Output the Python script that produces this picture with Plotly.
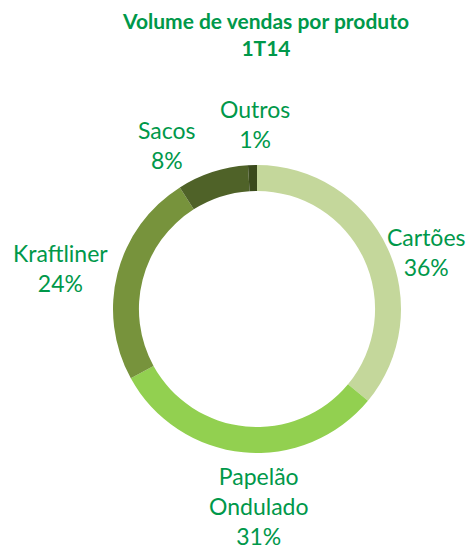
import plotly.graph_objects as go

categories = ["Cartões", "Papelão<br>Ondulado", "Kraftliner", "Sacos", "Outros"]
values = [36, 31, 24, 8, 1]
colors = ["#c4d79b", "#92d050", "#77933c", "#4f6228", "#3a4a1c"]

W, H = 469, 550
CX, CY, R = 257, 309, 144  # pixel center / radius
TXT = "#00984a"
FONT = "Lato"

fig = go.Figure(go.Pie(
    labels=categories, values=values, sort=False, direction="clockwise",
    rotation=0, hole=0.82, textinfo="none", hoverinfo="label+percent",
    marker=dict(colors=colors, line=dict(width=0)),
    domain=dict(x=[(CX - R) / W, (CX + R) / W], y=[(H - CY - R) / H, (H - CY + R) / H]),
    showlegend=False,
))

# label anchor positions (pixels, text center)
label_pos = [(426, 252), (259, 506), (60, 268), (167, 145), (255, 124)]
total = sum(values)
anns = []
for cat, v, (px, py) in zip(categories, values, label_pos):
    anns.append(dict(
        x=px / W, y=1 - py / H, xref="paper", yref="paper",
        text=f"{cat}<br>{round(100 * v / total)}%", showarrow=False,
        xanchor="center", yanchor="middle", align="center",
        font=dict(family=FONT, size=23, color=TXT),
    ))
anns.append(dict(
    x=265 / W, y=1 - 34 / H, xref="paper", yref="paper",
    text="<b>Volume de vendas por produto<br>1T14</b>", showarrow=False,
    xanchor="center", yanchor="middle", align="center",
    font=dict(family=FONT, size=21, color=TXT),
))

fig.update_layout(
    width=W, height=H, margin=dict(l=0, r=0, t=0, b=0),
    paper_bgcolor="white", plot_bgcolor="white", annotations=anns,
)
fig.write_html(
    "out.html",
    config={"displayModeBar": False},
    post_script="document.body.style.margin='0';document.body.style.overflow='hidden';",
)
